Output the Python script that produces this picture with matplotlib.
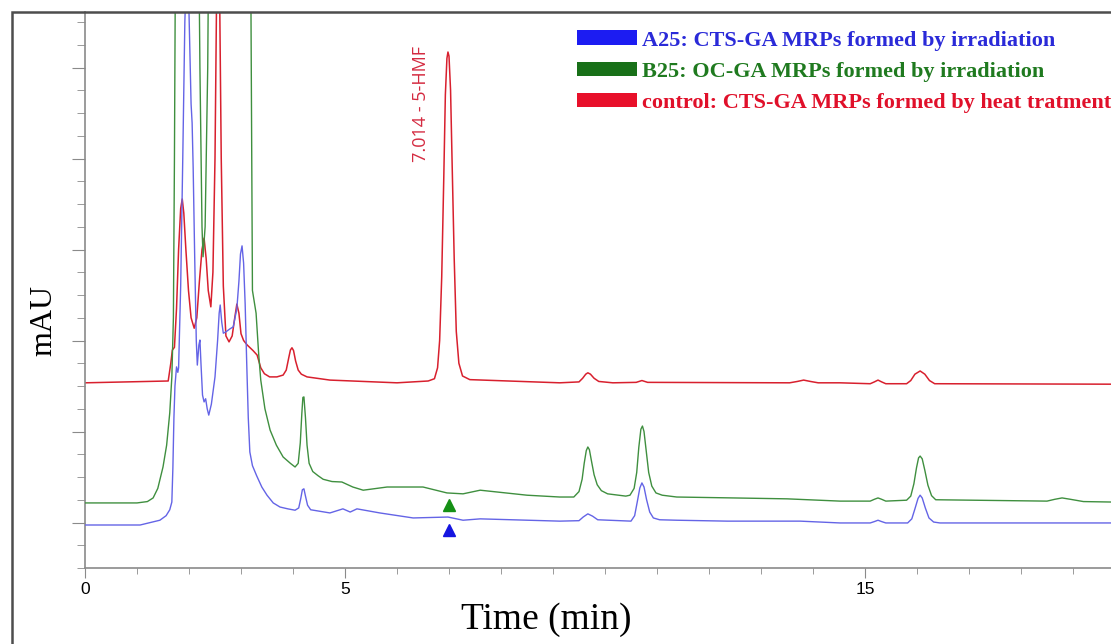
import numpy as np
import matplotlib
matplotlib.use("Agg")
import matplotlib.pyplot as plt
from matplotlib.patches import Patch, Rectangle
from matplotlib.ticker import MultipleLocator, FixedLocator

# chromatogram traces: time (min), signal (mAU)
blue_t = [0.0, 1.06, 1.44, 1.56, 1.63, 1.67, 1.69, 1.71, 1.73, 1.76, 1.785, 1.80, 1.84,
          1.88, 1.92, 1.96, 2.00, 2.04, 2.06, 2.08, 2.11, 2.14, 2.16, 2.19, 2.21, 2.23,
          2.26, 2.29, 2.32, 2.35, 2.38, 2.43, 2.50, 2.55, 2.58, 2.60, 2.63, 2.66, 2.71,
          2.78, 2.85, 2.92, 2.96, 2.99, 3.02, 3.05, 3.08, 3.11, 3.14, 3.17, 3.22, 3.30,
          3.40, 3.50, 3.62, 3.75, 3.90, 4.04, 4.11, 4.15, 4.18, 4.21, 4.24, 4.28, 4.34,
          4.71, 4.96, 5.10, 5.23, 5.67, 6.31, 6.98, 7.27, 7.60, 9.13, 9.50, 9.58, 9.67,
          9.76, 9.86, 10.50, 10.57, 10.62, 10.67, 10.71, 10.75, 10.80, 10.86, 10.93,
          11.05, 11.38, 12.35, 13.75, 14.52, 15.10, 15.18, 15.25, 15.32, 15.40, 15.82,
          15.90, 15.96, 16.02, 16.06, 16.10, 16.16, 16.23, 16.32, 16.44, 19.73]
blue_y = [9.45, 9.45, 10.5, 11.5, 12.8, 14.5, 22.0, 33.0, 40.0, 44.2, 43.0, 44.0, 62.0,
          90.0, 120.0, 135.0, 122.0, 102.0, 97.8, 88.0, 68.0, 50.0, 44.6, 49.0, 50.1, 45.0,
          38.0, 36.5, 37.2, 35.0, 33.6, 36.0, 42.0, 50.0, 56.0, 57.8, 54.0, 51.6, 51.9,
          52.5, 53.0, 57.0, 63.0, 69.0, 70.8, 67.0, 58.0, 45.0, 33.0, 25.5, 22.5, 20.3,
          17.8, 16.0, 14.3, 13.4, 13.0, 12.7, 13.2, 15.3, 17.2, 17.4, 15.8, 13.8, 12.8,
          12.1, 13.0, 12.3, 13.0, 12.1, 11.0, 11.2, 10.5, 10.8, 10.3, 10.4, 11.2, 11.9,
          11.4, 10.6, 10.3, 11.5, 14.5, 17.6, 18.7, 17.8, 15.0, 12.3, 11.0,
          10.6, 10.5, 10.3, 10.3, 9.9, 9.9, 10.2, 10.5, 10.2, 9.9, 9.9,
          10.8, 13.0, 15.3, 16.0, 15.4, 13.2, 11.0, 10.1, 9.9, 9.9]

green_t = [0.0, 1.00, 1.20, 1.31, 1.40, 1.50, 1.57, 1.63, 1.67, 1.70, 1.72, 1.75, 2.00,
           2.17, 2.21, 2.25, 2.27, 2.31, 2.36, 2.40, 2.80, 3.17, 3.22, 3.29, 3.34, 3.38,
           3.46, 3.56, 3.68, 3.81, 3.95, 4.04, 4.10, 4.14, 4.17, 4.19, 4.21, 4.24, 4.27,
           4.31, 4.38, 4.48, 4.58, 4.75, 4.94, 5.15, 5.35, 5.81, 6.50, 6.96, 7.27, 7.60,
           8.50, 9.13, 9.40, 9.50, 9.56, 9.60, 9.64, 9.67, 9.70, 9.74, 9.79, 9.85, 9.93,
           10.05, 10.40, 10.48, 10.56, 10.61, 10.65, 10.69, 10.72, 10.75, 10.79, 10.84,
           10.90, 10.98, 11.10, 11.38, 12.46, 13.50, 14.52, 15.10, 15.18, 15.25, 15.32,
           15.40, 15.80, 15.88, 15.94, 15.99, 16.03, 16.06, 16.10, 16.15, 16.21, 16.28,
           16.36, 18.50, 18.65, 18.79, 18.95, 19.20, 19.73]
green_y = [14.3, 14.3, 14.6, 15.4, 17.5, 22.2, 27.0, 34.1, 42.0, 55.0, 90.0, 160.0, 200.0,
           160.0, 110.0, 75.0, 68.4, 75.0, 110.0, 170.0, 250.0, 170.0, 61.0, 56.0, 47.0, 41.3,
           35.0, 30.3, 27.0, 24.4, 23.0, 22.2, 23.0, 27.5, 34.0, 37.5, 37.6, 33.0, 27.0,
           23.0, 21.2, 20.3, 19.5, 19.0, 18.9, 17.8, 17.1, 17.8, 17.8, 16.5, 16.3, 17.1,
           16.0, 15.6, 15.6, 16.8, 19.5, 23.0, 25.8, 26.6, 26.0, 23.5, 20.5, 18.3, 17.0,
           16.3, 15.8, 16.0, 17.5, 21.0, 26.5, 30.5, 31.2, 30.0, 26.0, 21.0,
           18.0, 16.5, 16.0, 15.6, 15.4, 15.2, 14.7, 14.7, 15.1, 15.4, 15.1,
           14.7, 14.9, 15.8, 18.5, 22.0, 24.2, 24.6, 24.0, 21.5, 18.2, 15.9,
           15.0, 14.7, 15.1, 15.4, 15.1, 14.6, 14.5]

red_t = [0.0, 1.60, 1.65, 1.68, 1.72, 1.76, 1.80, 1.84, 1.87, 1.90, 1.94, 1.99, 2.04,
         2.10, 2.15, 2.20, 2.25, 2.29, 2.33, 2.37, 2.42, 2.46, 2.50, 2.53, 2.56, 2.59,
         2.62, 2.66, 2.71, 2.77, 2.83, 2.88, 2.92, 2.96, 3.00, 3.05, 3.12, 3.23, 3.31,
         3.38, 3.45, 3.55, 3.69, 3.81, 3.87, 3.92, 3.95, 3.98, 4.01, 4.05, 4.10, 4.16,
         4.27, 4.71, 6.00, 6.60, 6.72, 6.78, 6.82, 6.86, 6.90, 6.93, 6.96, 6.98, 7.00,
         7.03, 7.06, 7.10, 7.14, 7.19, 7.26, 7.40, 9.13, 9.50, 9.57, 9.63, 9.67, 9.72,
         9.79, 9.88, 10.15, 10.60, 10.71, 10.82, 13.55, 13.70, 13.82, 13.95, 14.10,
         14.52, 15.10, 15.18, 15.25, 15.32, 15.40, 15.80, 15.88, 15.96, 16.06, 16.15,
         16.24, 16.34, 19.73]
red_y = [40.7, 41.1, 45.0, 47.9, 48.5, 57.0, 70.0, 79.0, 81.1, 78.0, 70.0, 61.0, 55.0,
         52.7, 55.0, 63.0, 70.0, 72.5, 68.0, 61.0, 57.4, 65.0, 90.0, 125.0, 150.0, 125.0,
         90.0, 62.0, 51.0, 49.7, 51.0, 55.0, 58.0, 56.0, 51.5, 50.0, 49.0, 47.8, 46.8,
         44.0, 42.7, 42.0, 42.0, 42.4, 43.5, 46.3, 47.9, 48.4, 47.8, 45.5, 43.5, 42.6,
         42.0, 41.3, 40.7, 41.1, 41.6, 44.0, 50.0, 64.0, 86.0, 104.0, 112.0, 113.4, 112.5,
         105.0, 89.0, 68.0, 52.0, 45.0, 42.2, 41.4, 40.7, 40.9, 41.7, 42.6, 42.9, 42.6,
         41.7, 41.0, 40.7, 40.8, 41.2, 40.8, 40.7, 41.0, 41.3, 41.0, 40.7,
         40.7, 40.5, 40.9, 41.3, 40.9, 40.5, 40.5, 41.2, 42.6, 43.3, 42.6,
         41.2, 40.5, 40.4]

labels = ["A25: CTS-GA MRPs formed by irradiation",
          "B25: OC-GA MRPs formed by irradiation",
          "control: CTS-GA MRPs formed by heat tratment"]
patch_colors = ["#1c1cf2", "#187018", "#e8102a"]
text_colors = ["#2a2ad8", "#1f7a1f", "#e0102a"]
line_colors = ["#6464e6", "#3f8f3f", "#d8202e"]

peak_label = "7.014 - 5-HMF"
peak_time = 7.0

W, H = 1111, 644
fig = plt.figure(figsize=(W / 100, H / 100), dpi=100)
ax = fig.add_axes([85 / W, 76 / H, 1 - 85 / W, (568 - 12) / H])

ax.plot(red_t, red_y, color=line_colors[2], lw=1.1, zorder=2)
ax.plot(green_t, green_y, color=line_colors[1], lw=1.0, zorder=3)
ax.plot(blue_t, blue_y, color=line_colors[0], lw=1.0, zorder=4)

# arrow markers under the 7 min position
ax.plot([peak_time], [13.8], marker="^", ms=8, color="#159015", ls="none")
ax.plot([peak_time], [8.3], marker="^", ms=8, color="#1515e0", ls="none")

ax.text(6.46, 102, peak_label, rotation=90, ha="center", va="center",
        color="#d42a40", fontsize=13, family="Open Sans")

ax.set_xlim(0, (W - 85) / 52)
ax.set_ylim(0, (568 - 12) / 4.55)

for s in ["top", "right"]:
    ax.spines[s].set_visible(False)
for s in ["left", "bottom"]:
    ax.spines[s].set_color("#8a8a8a")
    ax.spines[s].set_linewidth(1.2)

ax.xaxis.set_major_locator(FixedLocator([0, 5, 15]))
ax.xaxis.set_minor_locator(MultipleLocator(1))
ax.set_xticklabels(["0", "5", "15"], fontsize=12.5, family="Liberation Sans")
ax.yaxis.set_major_locator(FixedLocator(np.arange(10, 125, 20)))
ax.yaxis.set_minor_locator(MultipleLocator(5))
ax.set_yticklabels([])
ax.tick_params(axis="x", which="major", length=7, color="#8a8a8a", pad=3)
ax.tick_params(axis="x", which="minor", length=4, color="#8a8a8a")
ax.tick_params(axis="y", which="major", length=9.5, color="#8a8a8a")
ax.tick_params(axis="y", which="minor", length=6, color="#8a8a8a")

ax.set_xlabel("Time (min)", family="Liberation Serif", fontsize=27)
ax.xaxis.set_label_coords((546 - 85) / (W - 85), (568 - 602) / 556)
ax.set_ylabel("mAU", family="Liberation Serif", fontsize=23)
ax.yaxis.set_label_coords((58 - 85) / (W - 85), (568 - 320) / 556)

handles = [Patch(facecolor=c, edgecolor="none") for c in patch_colors]
leg = ax.legend(handles, labels, loc="upper left",
                bbox_to_anchor=(577 / W, 1 - 30.5 / H), bbox_transform=fig.transFigure,
                frameon=False, borderpad=0, borderaxespad=0,
                handlelength=2.7, handleheight=0.63, handletextpad=0.23,
                labelspacing=0.5,
                prop={"family": "Liberation Serif", "weight": "bold", "size": 16})
for txt, c in zip(leg.get_texts(), text_colors):
    txt.set_color(c)

# outer frame of the original figure
fig.add_artist(Rectangle((12 / W, -0.1), 1.2, (H - 12) / H + 0.1,
                         transform=fig.transFigure, fill=False,
                         ec="#4d4d4d", lw=1.8))

fig.savefig("out.png", dpi=100)
